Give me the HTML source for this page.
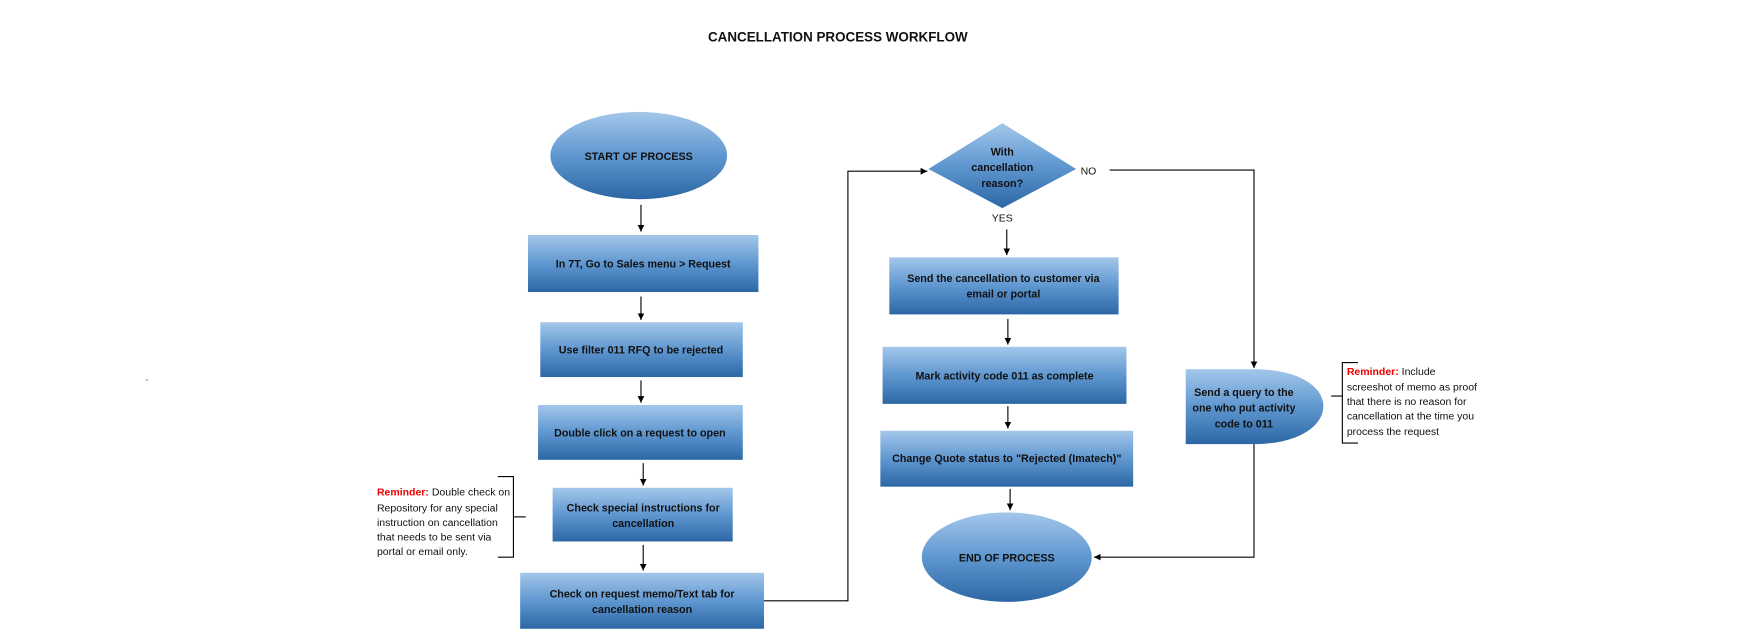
<!DOCTYPE html>
<html><head><meta charset="utf-8"><style>
html,body{margin:0;padding:0;background:#fff;}
svg{display:block;}
text{font-family:"Liberation Sans",sans-serif;fill:#111;}
.b{font-weight:bold;font-size:9.6px;}
.n{font-size:9.4px;}
</style></head><body>
<svg width="1754" height="640" viewBox="0 0 1568 572" xmlns="http://www.w3.org/2000/svg">
<defs>
<linearGradient id="g" x1="0" y1="0" x2="0" y2="1">
<stop offset="0" stop-color="#a3c7ea"/><stop offset="0.5" stop-color="#5f97d0"/><stop offset="1" stop-color="#2c67a5"/>
</linearGradient>
<marker id="a" markerWidth="8" markerHeight="8" refX="6" refY="3" orient="auto" markerUnits="userSpaceOnUse"><path d="M0,0 L6,3 L0,6 z" fill="#000"/></marker>
</defs>
<text x="749" y="37" text-anchor="middle" style="font-weight:bold;font-size:12px">CANCELLATION PROCESS WORKFLOW</text>
<text x="130" y="340" class="n">.</text>

<g stroke="#000" stroke-width="1" fill="none" marker-end="url(#a)">
<line x1="573" y1="183" x2="573" y2="207"/>
<line x1="573" y1="265" x2="573" y2="286"/>
<line x1="573" y1="340" x2="573" y2="360"/>
<line x1="575" y1="414" x2="575" y2="434"/>
<line x1="575" y1="487" x2="575" y2="510"/>
<polyline points="683,537 758,537 758,153 829,153"/>
<line x1="900" y1="205" x2="900" y2="228"/>
<line x1="901" y1="285" x2="901" y2="308"/>
<line x1="901" y1="363" x2="901" y2="383"/>
<line x1="903" y1="437" x2="903" y2="456"/>
<polyline points="992,152 1121,152 1121,329"/>
<polyline points="1121,397 1121,498 978,498"/>
</g>
<g stroke="#000" stroke-width="1" fill="none">
<polyline points="445,426 459,426 459,498 445,498"/>
<line x1="459" y1="462" x2="470" y2="462"/>
<polyline points="1214,324 1200,324 1200,396 1214,396"/>
<line x1="1190" y1="354" x2="1200" y2="354"/>
</g>

<ellipse cx="571" cy="139" rx="79" ry="39" fill="url(#g)"/>
<text x="571" y="143" text-anchor="middle" class="b">START OF PROCESS</text>
<rect x="472" y="210" width="206" height="51" fill="url(#g)"/>
<text x="575" y="239" text-anchor="middle" class="b">In 7T, Go to Sales menu &gt; Request</text>
<rect x="483" y="288" width="181" height="49" fill="url(#g)"/>
<text x="573" y="316" text-anchor="middle" class="b">Use filter 011 RFQ to be rejected</text>
<rect x="481" y="362" width="183" height="49" fill="url(#g)"/>
<text x="572" y="390" text-anchor="middle" class="b">Double click on a request to open</text>
<rect x="494" y="436" width="161" height="48" fill="url(#g)"/>
<text x="575" y="457" text-anchor="middle" class="b">Check special instructions for</text>
<text x="575" y="471" text-anchor="middle" class="b">cancellation</text>
<rect x="465" y="512" width="218" height="50" fill="url(#g)"/>
<text x="574" y="534" text-anchor="middle" class="b">Check on request memo/Text tab for</text>
<text x="574" y="548" text-anchor="middle" class="b">cancellation reason</text>

<polygon points="896,110 962,151 896,186 830,151" fill="url(#g)"/>
<text x="896" y="139" text-anchor="middle" class="b">With</text>
<text x="896" y="153" text-anchor="middle" class="b">cancellation</text>
<text x="896" y="167" text-anchor="middle" class="b">reason?</text>
<text x="966" y="156" class="n">NO</text>
<text x="896" y="198" text-anchor="middle" class="n">YES</text>

<rect x="795" y="230" width="205" height="51" fill="url(#g)"/>
<text x="897" y="252" text-anchor="middle" class="b">Send the cancellation to customer via</text>
<text x="897" y="266" text-anchor="middle" class="b">email or portal</text>
<rect x="789" y="310" width="218" height="51" fill="url(#g)"/>
<text x="898" y="339" text-anchor="middle" class="b">Mark activity code 011 as complete</text>
<rect x="787" y="385" width="226" height="50" fill="url(#g)"/>
<text x="900" y="413" text-anchor="middle" class="b">Change Quote status to "Rejected (Imatech)"</text>
<ellipse cx="900" cy="498" rx="76" ry="40" fill="url(#g)"/>
<text x="900" y="502" text-anchor="middle" class="b">END OF PROCESS</text>

<path d="M1060,330 L1121,330 C1160,330 1183,345 1183,363 C1183,381 1160,397 1121,397 L1060,397 Z" fill="url(#g)"/>
<text x="1112" y="354" text-anchor="middle" class="b">Send a query to the</text>
<text x="1112" y="368" text-anchor="middle" class="b">one who put activity</text>
<text x="1112" y="382" text-anchor="middle" class="b">code to 011</text>

<g class="n">
<text x="337" y="443"><tspan style="fill:#e00;font-weight:bold">Reminder:</tspan> Double check on</text>
<text x="337" y="457">Repository for any special</text>
<text x="337" y="470">instruction on cancellation</text>
<text x="337" y="483">that needs to be sent via</text>
<text x="337" y="496">portal or email only.</text>
<text x="1204" y="335"><tspan style="fill:#e00;font-weight:bold">Reminder:</tspan> Include</text>
<text x="1204" y="349">screeshot of memo as proof</text>
<text x="1204" y="362">that there is no reason for</text>
<text x="1204" y="375">cancellation at the time you</text>
<text x="1204" y="389">process the request</text>
</g>
</svg>
</body></html>
